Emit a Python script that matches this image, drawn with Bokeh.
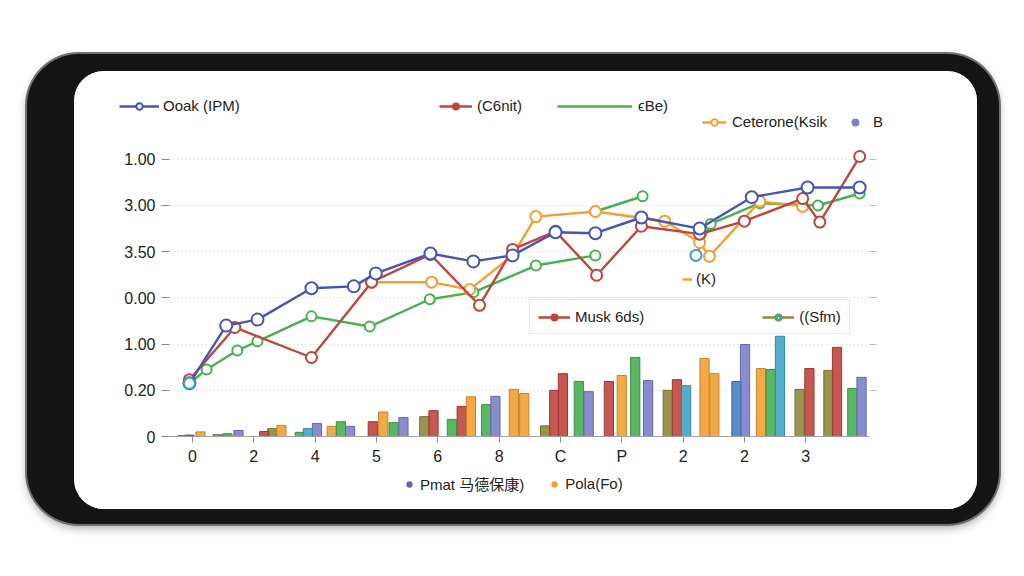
from bokeh.plotting import figure
from bokeh.models import Legend, LegendItem, LinearAxis, FixedTicker, Range1d
from bokeh.layouts import column
from bokeh.embed import file_html
from bokeh.resources import INLINE

nan = float("nan")

# ---- axes ----
x_ticks = [0, 1, 2, 3, 4, 5, 6, 7, 8, 9, 10]
x_tick_labels = ["0", "2", "4", "5", "6", "8", "C", "P", "2", "2", "3"]
y_ticks = [0, 1, 2, 3, 4, 5, 6]
y_tick_labels = ["0", "0.20", "1.00", "0.00", "3.50", "3.00", "1.00"]

# ---- line series ----
blue_x = [-0.05, 0.55, 1.06, 1.94, 2.63, 2.99, 3.88, 4.58, 5.22, 5.92, 6.57, 7.32, 8.27, 9.12, 10.03, 10.88]
blue_y = [1.15, 2.40, 2.53, 3.21, 3.25, 3.53, 3.96, 3.79, 3.92, 4.42, 4.40, 4.74, 4.50, 5.18, 5.39, 5.39]

red_x = [-0.05, 0.69, 1.94, 2.92, 3.88, 4.68, 5.22, 5.92, 6.59, 7.32, 8.27, 9.00, 9.95, 10.23, 10.88]
red_y = [1.23, 2.36, 1.71, 3.34, 3.94, 2.84, 4.05, 4.44, 3.49, 4.55, 4.38, 4.66, 5.15, 4.64, 6.06]

orange_x = [2.92, 3.90, 4.52, 5.22, 5.60, 6.57, 7.70, 8.27, 8.43, 9.25, 9.95]
orange_y = [3.34, 3.34, 3.18, 3.92, 4.76, 4.87, 4.66, 4.20, 3.90, 5.09, 4.98]

green_x = [-0.05, 0.23, 0.73, 1.06, 1.94, 2.89, 3.87, 4.58, 5.60, 6.57, nan, 6.57, 7.34, nan, 8.21, 8.45, 9.25, 10.20, 10.88]
green_y = [1.15, 1.45, 1.86, 2.06, 2.60, 2.38, 2.97, 3.12, 3.70, 3.92, nan, 4.87, 5.20, nan, 3.92, 4.60, 5.05, 5.00, 5.26]

teal_x = [-0.05, 8.21]
teal_y = [1.15, 3.92]

# ---- bar series (x position, height) ----
olive_bx = [0.41, 1.30, 3.78, 5.75, 7.75, 9.90, 10.37]
olive_bh = [0.04, 0.17, 0.43, 0.23, 1.00, 1.02, 1.43]
red_bx = [-0.05, 1.17, 2.94, 3.93, 4.39, 5.90, 6.04, 6.79, 7.90, 10.06, 10.51]
red_bh = [0.03, 0.11, 0.32, 0.56, 0.65, 1.00, 1.36, 1.19, 1.23, 1.47, 1.93]
orange_bx = [0.13, 1.45, 2.27, 3.11, 4.54, 5.24, 5.41, 7.00, 8.35, 8.51, 9.27]
orange_bh = [0.10, 0.24, 0.22, 0.53, 0.86, 1.02, 0.93, 1.32, 1.69, 1.36, 1.47]
green_bx = [0.57, 1.75, 2.42, 3.28, 4.23, 4.79, 6.30, 7.22, 9.43, 10.76]
green_bh = [0.06, 0.09, 0.32, 0.30, 0.37, 0.69, 1.19, 1.71, 1.45, 1.04]
purple_bx = [-0.16, 0.75, 2.03, 2.57, 3.44, 4.94, 6.46, 7.43, 9.01, 10.91]
purple_bh = [0.02, 0.13, 0.28, 0.22, 0.41, 0.87, 0.97, 1.21, 1.99, 1.28]
teal_bx = [1.88, 8.05, 9.58]
teal_bh = [0.17, 1.10, 2.17]
blue_bx = [8.87]
blue_bh = [1.19]

BLUE = "#4654b4"
RED = "#c0453f"
GREEN = "#47b050"
ORANGE = "#f2a032"
PURPLE = "#7c7fca"
TEAL = "#3ea6c6"
OLIVE = "#8d8a3e"
BARBLUE = "#4a80c2"
FONT = "Liberation Sans, 'Noto Sans CJK SC'"
W = 903

# ================= main chart =================
p = figure(width=W, height=330, output_backend="svg", toolbar_location=None,
           x_range=Range1d(-0.375, 11.04), y_range=Range1d(0, 6.32),
           min_border_left=95, min_border_right=108, min_border_top=5, min_border_bottom=33)
p.frame_align = False
p.outline_line_color = None
p.background_fill_color = "white"
p.border_fill_color = "white"

p.xaxis.ticker = FixedTicker(ticks=x_ticks)
p.xaxis.major_label_overrides = {t: l for t, l in zip(x_ticks, x_tick_labels)}
p.yaxis.ticker = FixedTicker(ticks=y_ticks)
p.yaxis.major_label_overrides = {t: l for t, l in zip(y_ticks, y_tick_labels)}
p.xgrid.grid_line_color = None
p.ygrid.ticker = FixedTicker(ticks=y_ticks[1:])
p.ygrid.grid_line_color = "#cfcfcf"
p.ygrid.grid_line_dash = "1 3"

for ax in (p.xaxis[0], p.yaxis[0]):
    ax.minor_tick_line_color = None
    ax.major_tick_in = 0
    ax.major_label_text_font = FONT
    ax.major_label_text_font_size = "16px"
    ax.major_label_text_color = "#222222"
p.xaxis.axis_line_color = "#a0a0a0"
p.xaxis.major_tick_line_color = "#909090"
p.xaxis.major_tick_out = 6
p.xaxis.major_label_standoff = 5
p.yaxis.axis_line_color = None
p.yaxis.major_tick_line_color = "#888888"
p.yaxis.major_tick_out = 8
p.yaxis.major_label_standoff = 6

rax = LinearAxis(ticker=FixedTicker(ticks=y_ticks[1:]), axis_line_color=None,
                 major_tick_line_color="#bbbbbb", major_tick_in=0, major_tick_out=7,
                 minor_tick_line_color=None,
                 major_label_overrides={t: "" for t in y_ticks[1:]})
p.add_layout(rax, "right")

def darker(c, f=0.82):
    r, g, b = int(c[1:3], 16), int(c[3:5], 16), int(c[5:7], 16)
    return "#%02x%02x%02x" % (int(r * f), int(g * f), int(b * f))

for bx, bh, col in [(olive_bx, olive_bh, OLIVE), (red_bx, red_bh, RED), (orange_bx, orange_bh, ORANGE),
                    (green_bx, green_bh, GREEN), (purple_bx, purple_bh, PURPLE), (teal_bx, teal_bh, TEAL),
                    (blue_bx, blue_bh, BARBLUE)]:
    p.vbar(x=bx, top=bh, bottom=0, width=0.15, fill_color=col, fill_alpha=0.9,
           line_color=darker(col), line_width=1)

LW = 2.4
green_line = p.line(green_x, green_y, line_color=GREEN, line_width=LW)
p.scatter(green_x, green_y, marker="circle", size=10, fill_color="white", line_color=GREEN, line_width=2)
orange_line = p.line(orange_x, orange_y, line_color=ORANGE, line_width=LW)
p.scatter(orange_x, orange_y, marker="circle", size=11, fill_color="white", line_color=ORANGE, line_width=2)
red_line = p.line(red_x, red_y, line_color=RED, line_width=LW)
p.scatter(red_x, red_y, marker="circle", size=11, fill_color="white", line_color=RED, line_width=2)
blue_line = p.line(blue_x, blue_y, line_color=BLUE, line_width=LW)
p.scatter(blue_x, blue_y, marker="circle", size=12, fill_color="white", line_color=BLUE, line_width=2)
p.scatter(teal_x, teal_y, marker="circle", size=11, fill_color="white", line_color=TEAL, line_width=2)

def lg_line(fig, color):
    return fig.line([nan, nan], [nan, nan], line_color=color, line_width=LW)

def lg_dot(fig, color, size, marker="circle", fill=None, lw=1.5):
    return fig.scatter([nan], [nan], marker=marker, size=size, fill_color=fill or color,
                       line_color=color, line_width=lw)

def mk_legend(fig, items, loc, glyph_w, spacing=0, size="15px", box=False, padding=0,
              standoff=5):
    lg = Legend(items=items, location=loc, orientation="horizontal",
                glyph_width=glyph_w, glyph_height=16, label_height=16,
                label_standoff=standoff, spacing=spacing, padding=padding, margin=0,
                label_text_font=FONT, label_text_font_size=size, label_text_color="#222222",
                background_fill_alpha=1.0 if box else 0.0,
                background_fill_color="white",
                border_line_color="#d4d4d4" if box else None, border_line_width=1)
    fig.add_layout(lg, "center")
    return lg

# legends inside the chart area
k_line = lg_line(p, ORANGE)
mk_legend(p, [LegendItem(label="(K)", renderers=[k_line])], (513, 149), 10, standoff=4)
m_red = lg_dot(p, RED, 9)
m_olive_l = lg_line(p, OLIVE)
m_olive_d = lg_dot(p, OLIVE, 8)
m_teal = lg_dot(p, "#33b08c", 11, marker="diamond", fill="white", lw=2)
mk_legend(p, [LegendItem(label="Musk 6ds)", renderers=[red_line, m_red]),
              LegendItem(label="((Sfm)", renderers=[m_olive_l, m_olive_d, m_teal])],
          (360, 102), 32, spacing=118, box=True, padding=8)

def strip(h):
    f = figure(width=W, height=h, output_backend="svg", toolbar_location=None,
               x_range=Range1d(0, 1), y_range=Range1d(0, 1),
               x_axis_location=None, y_axis_location=None,
               min_border_left=0, min_border_right=0, min_border_top=0, min_border_bottom=0)
    f.frame_align = False
    f.grid.visible = False
    f.outline_line_color = None
    f.background_fill_color = "white"
    f.border_fill_color = "white"
    return f

# ================= top legend strip =================
top = strip(68)
t_bl = lg_line(top, BLUE)
t_bo = lg_dot(top, BLUE, 10, fill="white", lw=2)
mk_legend(top, [LegendItem(label="Ooak (IPM)", renderers=[t_bl, t_bo])], (45, 25), 40, standoff=4)
t_rl = lg_line(top, RED)
t_rd = lg_dot(top, RED, 9)
mk_legend(top, [LegendItem(label="(C6nit)", renderers=[t_rl, t_rd])], (365, 25), 33, standoff=5)
t_gl = lg_line(top, GREEN)
mk_legend(top, [LegendItem(label="ϵBe)", renderers=[t_gl])], (483, 25), 75, standoff=6)
t_ol = lg_line(top, ORANGE)
t_oo = lg_dot(top, ORANGE, 10, fill="white", lw=2)
t_pd = lg_dot(top, PURPLE, 12)
mk_legend(top, [LegendItem(label="Ceterone(Ksik", renderers=[t_ol, t_oo]),
                LegendItem(label="B", renderers=[t_pd])], (628, 9), 24, spacing=16, standoff=6)

# ================= bottom legend strip =================
bot = strip(40)
b_bd = lg_dot(bot, "#5a66b8", 7)
b_od = lg_dot(bot, ORANGE, 7)
mk_legend(bot, [LegendItem(label="Pmat 马德保康)", renderers=[b_bd]),
                LegendItem(label="Pola(Fo)", renderers=[b_od])], (329, 15), 12, spacing=24, standoff=5)

screen = column(top, p, bot, spacing=0,
                styles={"background-color": "white", "border-radius": "30px", "overflow": "hidden"})
phone = column(screen, margin=(54, 0, 0, 27),
               styles={"background-color": "#141414", "padding": "17px 22px 15px 47px",
                       "border-radius": "52px",
                       "box-shadow": "0 0 0 2px #707070, 0 4px 10px rgba(0,0,0,0.35)"})

open("out.html", "w").write(file_html(phone, INLINE))
